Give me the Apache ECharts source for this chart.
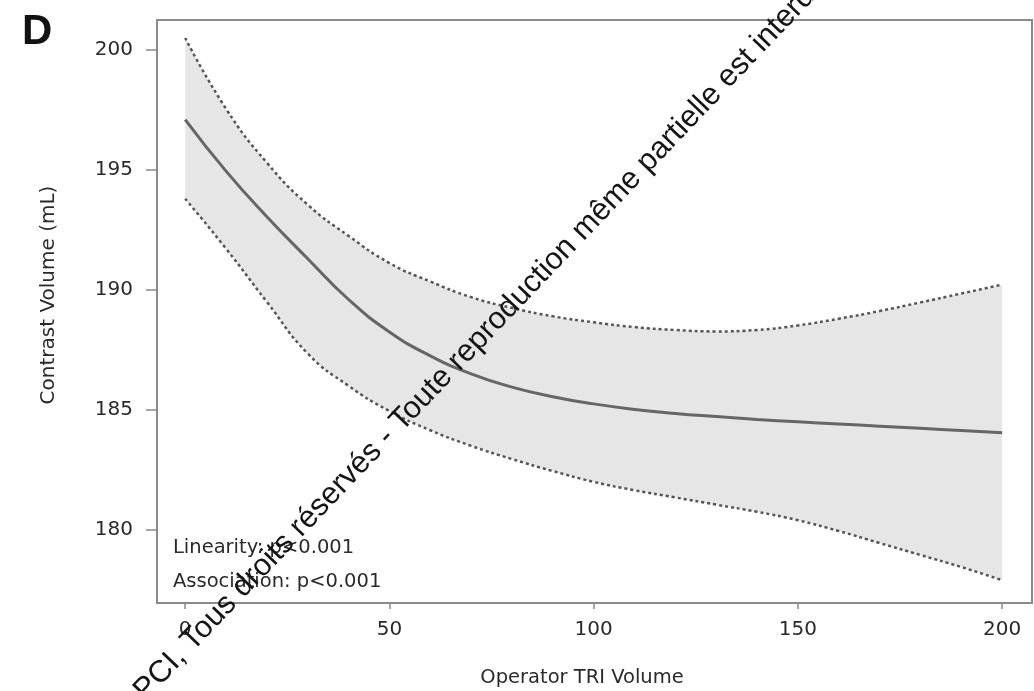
<!DOCTYPE html>
<html>
<head>
<meta charset="utf-8">
<title>Contrast Volume vs Operator TRI Volume</title>
<script src="https://cdn.jsdelivr.net/npm/echarts@6/dist/echarts.min.js"></script>
<style>
  html, body { margin: 0; padding: 0; background: #ffffff; }
  #chart { width: 1034px; height: 691px; }
</style>
</head>
<body>
<div id="chart"></div>
<script>
// Operator TRI volume (x) and fitted contrast volume with its 95% confidence limits
const triVolume = [0, 10, 20, 30, 40, 50, 60, 70, 80, 90, 100, 110, 120, 130, 140, 150, 160, 170, 180, 190, 200];
const fitted    = [197.1, 194.95, 193.05, 191.3, 189.6, 188.25, 187.25, 186.5, 185.95, 185.55, 185.25, 185.02, 184.85, 184.72, 184.6, 184.5, 184.41, 184.32, 184.23, 184.14, 184.05];
const upperCI   = [200.5, 197.55, 195.3, 193.55, 192.25, 191.12, 190.35, 189.7, 189.25, 188.9, 188.65, 188.45, 188.33, 188.27, 188.33, 188.52, 188.8, 189.12, 189.48, 189.85, 190.22];
const lowerCI   = [193.8, 191.72, 189.5, 187.35, 186.0, 184.95, 184.15, 183.5, 182.95, 182.45, 182.0, 181.65, 181.35, 181.05, 180.75, 180.4, 179.95, 179.45, 178.95, 178.45, 177.9];

// Axis tick values
const xTicks = [0, 50, 100, 150, 200];
const yTicks = [180, 185, 190, 195, 200];

const pairs = (xs, ys) => xs.map((x, i) => [x, ys[i]]);

const labelFont = '"DejaVu Sans", "Open Sans", sans-serif';
const textColor = '#2a2a2a';
const axisGrey = '#8a8a8a';
const SMOOTH = 0.5;

// Bezier path through pixel points, using the same control-point rule as
// the smoothed line series so the band edges follow the drawn limits.
function curveCommands(pts, smooth, startCmd) {
  let d = startCmd + pts[0][0] + ',' + pts[0][1];
  let cpx0 = pts[0][0], cpy0 = pts[0][1];
  for (let i = 1; i < pts.length; i++) {
    const x = pts[i][0], y = pts[i][1];
    const prevX = pts[i - 1][0], prevY = pts[i - 1][1];
    let cpx1 = x, cpy1 = y, nextCpx0 = x, nextCpy0 = y;
    if (i < pts.length - 1) {
      const nextX = pts[i + 1][0], nextY = pts[i + 1][1];
      let vx = nextX - prevX, vy = nextY - prevY;
      const lenPrev = Math.hypot(x - prevX, y - prevY);
      const lenNext = Math.hypot(nextX - x, nextY - y);
      const ratio = lenNext / (lenNext + lenPrev);
      nextCpx0 = x + vx * smooth * ratio;
      nextCpy0 = y + vy * smooth * ratio;
      nextCpx0 = Math.max(Math.min(nextCpx0, Math.max(nextX, x)), Math.min(nextX, x));
      nextCpy0 = Math.max(Math.min(nextCpy0, Math.max(nextY, y)), Math.min(nextY, y));
      vx = nextCpx0 - x; vy = nextCpy0 - y;
      cpx1 = x - vx * lenPrev / lenNext;
      cpy1 = y - vy * lenPrev / lenNext;
      cpx1 = Math.max(Math.min(cpx1, Math.max(prevX, x)), Math.min(prevX, x));
      cpy1 = Math.max(Math.min(cpy1, Math.max(prevY, y)), Math.min(prevY, y));
      vx = x - cpx1; vy = y - cpy1;
      nextCpx0 = x + vx * lenNext / lenPrev;
      nextCpy0 = y + vy * lenNext / lenPrev;
    }
    d += ' C' + cpx0 + ',' + cpy0 + ' ' + cpx1 + ',' + cpy1 + ' ' + x + ',' + y;
    cpx0 = nextCpx0; cpy0 = nextCpy0;
  }
  return d;
}

const chart = echarts.init(document.getElementById('chart'), null, { renderer: 'canvas' });

chart.setOption({
  backgroundColor: '#ffffff',
  animation: false,
  grid: {
    left: 157, top: 20, width: 875, height: 583,
    show: true, borderColor: axisGrey, borderWidth: 2, backgroundColor: 'transparent'
  },
  xAxis: {
    type: 'value',
    min: -6.9, max: 207.3,
    splitLine: { show: false },
    axisLine: { show: true, onZero: false, lineStyle: { color: axisGrey, width: 2 } },
    axisTick: { show: true, customValues: xTicks, length: 6, lineStyle: { color: axisGrey, width: 1.5 } },
    axisLabel: { customValues: xTicks, margin: 17, color: textColor, fontSize: 20, fontFamily: labelFont }
  },
  yAxis: {
    type: 'value',
    min: 176.95, max: 201.25,
    splitLine: { show: false },
    axisLine: { show: true, onZero: false, lineStyle: { color: axisGrey, width: 2 } },
    axisTick: { show: true, customValues: yTicks, length: 11, lineStyle: { color: axisGrey, width: 1.5 } },
    axisLabel: { customValues: yTicks, margin: 24, color: textColor, fontSize: 20, fontFamily: labelFont }
  },
  series: [
    {
      // shaded confidence band between the lower and upper limits
      type: 'custom', name: '95% CI band', z: 1, silent: true,
      data: [0],
      renderItem: function (params, api) {
        const top = triVolume.map((x, i) => api.coord([x, upperCI[i]]));
        const bottom = triVolume.map((x, i) => api.coord([x, lowerCI[i]])).reverse();
        const pathData = curveCommands(top, SMOOTH, 'M') + ' ' + curveCommands(bottom, SMOOTH, 'L') + ' Z';
        return {
          type: 'path',
          shape: { pathData: pathData },
          style: { fill: '#e6e6e6', stroke: null }
        };
      }
    },
    {
      type: 'line', name: 'Upper 95% CI', z: 3,
      data: pairs(triVolume, upperCI),
      smooth: SMOOTH, showSymbol: false,
      lineStyle: { color: '#555555', width: 2.5, type: [3, 3] }
    },
    {
      type: 'line', name: 'Lower 95% CI', z: 3,
      data: pairs(triVolume, lowerCI),
      smooth: SMOOTH, showSymbol: false,
      lineStyle: { color: '#555555', width: 2.5, type: [3, 3] }
    },
    {
      type: 'line', name: 'Contrast Volume', z: 4,
      data: pairs(triVolume, fitted),
      smooth: SMOOTH, showSymbol: false,
      lineStyle: { color: '#666666', width: 3 }
    }
  ],
  graphic: [
    {
      type: 'text', left: 22, top: 11, z: 10,
      style: { text: 'D', fill: '#111', font: 'bold 42px "Liberation Sans", Arial, sans-serif' }
    },
    {
      type: 'text', x: 49, y: 295, rotation: Math.PI / 2, z: 10,
      style: { text: 'Contrast Volume (mL)', fill: textColor, font: '20px ' + labelFont, textAlign: 'center', textVerticalAlign: 'middle' }
    },
    {
      type: 'text', x: 582, y: 678, z: 10,
      style: { text: 'Operator TRI Volume', fill: textColor, font: '19.5px ' + labelFont, textAlign: 'center', textVerticalAlign: 'middle' }
    },
    {
      type: 'text', x: 173, y: 548, z: 10,
      style: { text: 'Linearity: p<0.001', fill: textColor, font: '19.5px ' + labelFont, textAlign: 'left', textVerticalAlign: 'middle' }
    },
    {
      type: 'text', x: 173, y: 582, z: 10,
      style: { text: 'Association: p<0.001', fill: textColor, font: '19.5px ' + labelFont, textAlign: 'left', textVerticalAlign: 'middle' }
    },
    {
      // copyright notice across the plot
      type: 'text', x: 478, y: 340, rotation: 0.81, z: 20,
      style: {
        text: '©PCI, Tous droits réservés - Toute reproduction même partielle est interdite',
        fill: '#151515', font: '30.8px "Liberation Sans", Arial, sans-serif',
        textAlign: 'center', textVerticalAlign: 'middle'
      }
    }
  ]
});
</script>
</body>
</html>
